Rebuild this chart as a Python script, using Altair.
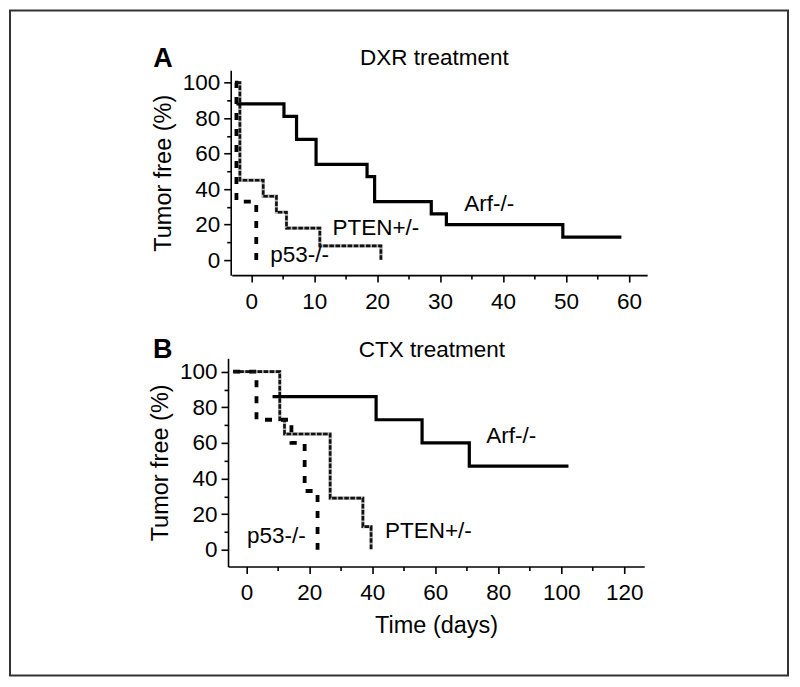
import altair as alt
import pandas as pd

# ---------------- data ----------------
# Panel A: DXR treatment  (time in days, % tumor free), Kaplan-Meier steps
a_arf_t = [-2.35, 5.2, 7.2, 10.3, 18.4, 19.6, 28.6, 31.0, 49.5, 58.8]
a_arf_s = [88, 81, 68, 54, 47, 33, 26, 20, 13, 13]
a_pten_t = [-2.3, -1.8, 1.9, 4.0, 5.6, 10.9, 20.6]
a_pten_s = [100, 45, 36, 27, 18, 8, 0]
a_p53_t = [-2.6, -2.35, 0.8]
a_p53_s = [100, 33, 0]

# Panel B: CTX treatment
b_arf_t = [8.3, 41.2, 55.8, 70.8, 102.3]
b_arf_s = [86, 73, 60, 47, 47]
b_pten_t = [-4.2, 10.6, 12.1, 26.6, 37.0, 39.6]
b_pten_s = [100, 73, 65, 29, 13, 0]
b_p53_t = [-4.2, 3.2, 14.3, 18.5, 22.6]
b_p53_s = [100, 73, 60, 33, 0]

# text labels (data coordinates of each panel)
a_labels = ["Arf-/-", "PTEN+/-", "p53-/-", "DXR treatment"]
a_label_x = [37.8, 19.8, 7.7, 29.1]
a_label_y = [31.8, 18.3, 3.1, 114.0]
b_labels = ["Arf-/-", "PTEN+/-", "p53-/-", "CTX  treatment"]
b_label_x = [84.1, 57.8, 9.5, 58.9]
b_label_y = [63.7, 10.7, 7.6, 112.2]
letters = ["A", "B"]
letter_x = [-14.0, -26.6]
letter_y = [113.1, 112.2]

y_ticks = [0, 10, 20, 30, 40, 50, 60, 70, 80, 90, 100]
a_x_ticks = [0, 5, 10, 15, 20, 25, 30, 35, 40, 45, 50, 55, 60]
b_x_ticks = [0, 10, 20, 30, 40, 50, 60, 70, 80, 90, 100, 110, 120]

FONT = "Liberation Sans"
FS = 22.5
W, H = 779, 666


def curve(t, s):
    return pd.DataFrame({"t": t, "s": s})


def panel(arf, pten, p53, lab, lab_x, lab_y, letter, lx, ly,
          xdom, xrange, ydom, yrange, xticks, major_x, yoff, xoff, xtitle):
    x_enc = alt.X(
        "t:Q",
        scale=alt.Scale(domain=xdom, range=xrange, nice=False, zero=False),
        axis=alt.Axis(
            orient="bottom", offset=xoff, values=xticks,
            labelExpr=f"datum.value % {major_x} === 0 ? datum.label : ''",
            tickSize={"condition": {"test": f"datum.value % {major_x} !== 0", "value": 4}, "value": 7},
            title=xtitle, labelPadding=8, titlePadding=10,
        ),
    )
    y_enc = alt.Y(
        "s:Q",
        scale=alt.Scale(domain=ydom, range=yrange, nice=False, zero=False),
        axis=alt.Axis(
            orient="left", offset=yoff, values=y_ticks,
            labelExpr="datum.value % 20 === 0 ? datum.label : ''",
            tickSize={"condition": {"test": "datum.value % 20 !== 0", "value": 4}, "value": 7},
            title="Tumor free (%)", labelPadding=4, titlePadding=7,
        ),
    )
    arf_l = alt.Chart(arf).mark_line(
        interpolate="step-after", color="black", strokeWidth=3.2, strokeCap="butt"
    ).encode(x=x_enc, y=y_enc)
    pten_under = alt.Chart(pten).mark_line(
        interpolate="step-after", color="#b0b0b0", strokeWidth=3.3, strokeCap="butt"
    ).encode(x=x_enc, y=y_enc)
    pten_l = alt.Chart(pten).mark_line(
        interpolate="step-after", color="#111111", strokeWidth=2.6,
        strokeDash=[4.5, 1.6], strokeCap="butt"
    ).encode(x=x_enc, y=y_enc)
    p53_l = alt.Chart(p53).mark_line(
        interpolate="step-after", color="black", strokeWidth=3.8,
        strokeDash=[7, 9], strokeCap="butt"
    ).encode(x=x_enc, y=y_enc)
    txt = alt.Chart(pd.DataFrame({"t": lab_x, "s": lab_y, "label": lab})).mark_text(
        font=FONT, fontSize=FS, color="black", align="center", baseline="middle"
    ).encode(x=x_enc, y=y_enc, text="label:N")
    let = alt.Chart(pd.DataFrame({"t": [lx], "s": [ly], "label": [letter]})).mark_text(
        font=FONT, fontSize=27, fontWeight="bold", color="black",
        align="center", baseline="middle"
    ).encode(x=x_enc, y=y_enc, text="label:N")
    return alt.layer(pten_under, p53_l, pten_l, arf_l, txt, let)


panelA = panel(
    curve(a_arf_t, a_arf_s), curve(a_pten_t, a_pten_s), curve(a_p53_t, a_p53_s),
    a_labels, a_label_x, a_label_y, letters[0], letter_x[0], letter_y[0],
    xdom=[-3.1, 62.9], xrange=[222, 638], ydom=[-8.5, 107], yrange=[265.1, 59.9],
    xticks=a_x_ticks, major_x=10, yoff=-221, xoff=-401, xtitle="",
)
panelB = panel(
    curve(b_arf_t, b_arf_s), curve(b_pten_t, b_pten_s), curve(b_p53_t, b_p53_s),
    b_labels, b_label_x, b_label_y, letters[1], letter_x[1], letter_y[1],
    xdom=[-5.84, 126.35], xrange=[218.3, 635], ydom=[-9.4, 107.5], yrange=[556.8, 348.3],
    xticks=b_x_ticks, major_x=20, yoff=-218.3, xoff=-109.2, xtitle="Time (days)",
)

chart = (
    alt.layer(panelA, panelB)
    .resolve_scale(x="independent", y="independent")
    .resolve_axis(x="independent", y="independent")
    .properties(width=W, height=H, autosize="none",
                padding={"left": 2, "top": 2, "right": 4, "bottom": 4})
    .configure_view(stroke="#333333", strokeWidth=2)
    .configure_axis(
        labelFont=FONT, labelFontSize=FS, labelColor="black",
        titleFont=FONT, titleFontSize=23.5, titleFontWeight="normal", titleColor="black",
        domainColor="black", domainWidth=1.6, tickColor="black", tickWidth=1.6,
        grid=False, labelFlush=False, labelOverlap=False,
    )
)

chart.save("out.html", embed_options={"renderer": "svg", "actions": False})
